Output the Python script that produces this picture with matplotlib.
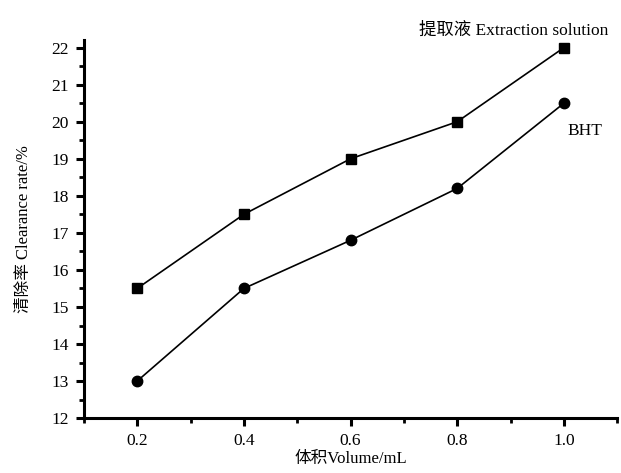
import matplotlib
matplotlib.use("Agg")
import matplotlib.pyplot as plt
from matplotlib.ticker import MultipleLocator

plt.rcParams['font.family'] = ['Liberation Serif', 'Noto Sans CJK SC']

volume = [0.2, 0.4, 0.6, 0.8, 1.0]
extract = [15.5, 17.5, 19.0, 20.0, 22.0]
bht = [13.0, 15.5, 16.8, 18.2, 20.5]

fig = plt.figure(figsize=(6.21, 4.73), dpi=100)
ax = fig.add_axes([0.135, 0.116, 0.859, 0.799])

ax.plot(volume, extract, 'k-', marker='s', markersize=7, linewidth=1.2)
ax.plot(volume, bht, 'k-', marker='o', markersize=7.5, linewidth=1.2)

ax.set_xlim(0.1, 1.1)
ax.set_ylim(12, 22.2)
ax.xaxis.set_major_locator(MultipleLocator(0.2))
ax.xaxis.set_minor_locator(MultipleLocator(0.1))
ax.yaxis.set_major_locator(MultipleLocator(1))
ax.yaxis.set_minor_locator(MultipleLocator(0.5))
ax.set_xticks(volume)
ax.set_xticklabels(['0.2', '0.4', '0.6', '0.8', '1.0'])

for s in ['top', 'right']:
    ax.spines[s].set_visible(False)
for s in ['left', 'bottom']:
    ax.spines[s].set_linewidth(2.2)

ax.tick_params(which='major', direction='out', length=6, width=2.2, labelsize=12.5, pad=5)
ax.tick_params(which='minor', direction='out', length=3.5, width=2.0)

ax.set_xlabel('体积Volume/mL', fontsize=12, labelpad=1)
ax.set_ylabel('清除率 Clearance rate/%', fontsize=12, labelpad=14)

ax.text(0.905, 22.46, '提取液 Extraction solution', fontsize=12.5, ha='center', va='center', clip_on=False)
ax.text(1.04, 19.76, 'BHT', fontsize=12.5, ha='center', va='center')

fig.savefig('out.png', dpi=100)
